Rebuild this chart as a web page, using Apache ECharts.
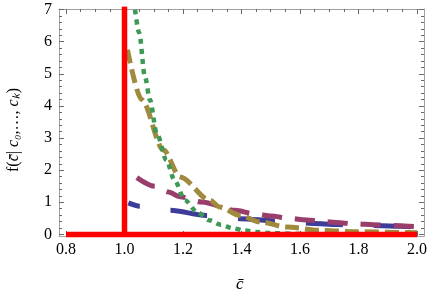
<!DOCTYPE html>
<html><head><meta charset="utf-8">
<script src="https://cdn.jsdelivr.net/npm/echarts@6/dist/echarts.min.js"></script>
<style>html,body{margin:0;padding:0;background:#fff}#c{width:430px;height:300px}</style>
</head><body><div id="c"></div>
<script>
// ---- data ----
const xTickLabels = [0.8, 1.0, 1.2, 1.4, 1.6, 1.8, 2.0];
const yTickLabels = [0, 1, 2, 3, 4, 5, 6, 7];
const xMinorTicks = [0.8,0.85,0.9,0.95,1.0,1.05,1.1,1.15,1.2,1.25,1.3,1.35,1.4,1.45,1.5,1.55,1.6,1.65,1.7,1.75,1.8,1.85,1.9,1.95,2.0];
const yMinorTicks = [0,0.2,0.4,0.6,0.8,1,1.2,1.4,1.6,1.8,2,2.2,2.4,2.6,2.8,3,3.2,3.4,3.6,3.8,4,4.2,4.4,4.6,4.8,5,5.2,5.4,5.6,5.8,6,6.2,6.4,6.6,6.8,7];

const redX = [0.8, 1.0, 1.0, 1.0, 2.0];
const redY = [0, 0, 7.1, 0, 0];

const blueX = [1.013, 1.053, 1.156, 1.281, 1.395, 1.52, 1.63, 1.713, 1.754, 1.942, 2.0];
const blueY = [0.98, 0.875, 0.75, 0.59, 0.49, 0.42, 0.35, 0.31, 0.30, 0.25, 0.22];

const purpleX = [1.042, 1.104, 1.15, 1.19, 1.264, 1.378, 1.446, 1.5, 1.566, 1.61, 1.68, 1.794, 1.85, 2.0];
const purpleY = [1.77, 1.5, 1.32, 1.17, 1.01, 0.75, 0.64, 0.57, 0.50, 0.46, 0.40, 0.33, 0.30, 0.24];

const brownX = [1.01, 1.059, 1.133, 1.19, 1.292, 1.326, 1.395, 1.463, 1.555, 1.668, 1.8, 2.0];
const brownY = [5.75, 4.19, 2.63, 1.79, 1.06, 0.85, 0.59, 0.39, 0.23, 0.125, 0.08, 0.05];

const greenX = [1.036, 1.05, 1.07, 1.087, 1.11, 1.144, 1.17, 1.207, 1.25, 1.29, 1.33, 1.37, 1.41, 1.45, 1.5, 1.6, 1.7, 1.85, 2.0];
const greenY = [7.0, 6.28, 4.9, 4.19, 3.15, 2.3, 1.7, 1.06, 0.68, 0.44, 0.3, 0.19, 0.12, 0.075, 0.04, 0.015, 0.006, 0.002, 0.001];

const xName = 'c\u0304';
const yName = '{r|f(}{i|c\u0304}{r|| }{i|c₀}{r|,…, }{i|cₖ}{r|)}';

// ---- chart ----
const pairs = (xs, ys) => xs.map((x, i) => [x, ys[i]]);
const FONT = '"Liberation Serif", "Times New Roman", serif';
const frameColor = '#a0a0a0';
const tickColor = '#6a6a6a';
const XMIN = 0.776, XMAX = 2.024, YMIN = -0.05, YMAX = 7.02;

function xAx(pos, vals, len, labels, line) {
  return {
    type: 'value', position: pos, min: XMIN, max: XMAX,
    axisLine: { show: line, onZero: false, lineStyle: { color: frameColor, width: 1 } },
    axisTick: { show: true, inside: true, length: len, customValues: vals, lineStyle: { color: tickColor, width: 1 } },
    axisLabel: labels ? { show: true, customValues: xTickLabels, formatter: v => Number(v).toFixed(1), fontFamily: FONT, fontSize: 16, color: '#000', margin: 6 } : { show: false },
    splitLine: { show: false }
  };
}
function yAx(pos, vals, len, labels, line) {
  return {
    type: 'value', position: pos, min: YMIN, max: YMAX,
    axisLine: { show: line, onZero: false, lineStyle: { color: frameColor, width: 1 } },
    axisTick: { show: true, inside: true, length: len, customValues: vals, lineStyle: { color: tickColor, width: 1 } },
    axisLabel: labels ? { show: true, customValues: yTickLabels, formatter: v => String(Math.round(v)), fontFamily: FONT, fontSize: 16, color: '#000', margin: 7 } : { show: false },
    splitLine: { show: false }
  };
}

function line(data, color, width, dash, z, offset) {
  return {
    type: 'line', data: data, xAxisIndex: 0, yAxisIndex: 0, showSymbol: false, symbol: 'none',
    smooth: 0.3, smoothMonotone: 'x', clip: true, z: z,
    lineStyle: { color: color, width: width, type: dash, dashOffset: offset || 0, cap: 'butt', join: 'round' },
    silent: true, animation: false
  };
}

const chart = echarts.init(document.getElementById('c'), null, { renderer: 'canvas' });
chart.setOption({
  animation: false,
  backgroundColor: '#fff',
  grid: { left: 59, right: 6, top: 9, bottom: 64 },
  xAxis: [
    xAx('bottom', xTickLabels, 5, true, true),
    xAx('bottom', xMinorTicks, 3, false, false),
    xAx('top', xTickLabels, 5, false, true),
    xAx('top', xMinorTicks, 3, false, false)
  ],
  yAxis: [
    yAx('left', yTickLabels, 5, true, true),
    yAx('left', yMinorTicks, 3, false, false),
    yAx('right', yTickLabels, 5, false, true),
    yAx('right', yMinorTicks, 3, false, false)
  ],
  series: [
    line(pairs(blueX, blueY), '#3d3d99', 5, [37, 31], 2, 25),
    line(pairs(purpleX, purpleY), '#993d6b', 5, [20, 13], 3, 0),
    line(pairs(brownX, brownY), '#a08a3d', 5, [14, 6], 4, 0),
    line(pairs(greenX, greenY), '#3d9955', 4.5, [5, 5], 5, 0),
    Object.assign(line(pairs(redX, redY), '#ff0000', 5, 'solid', 6), { smooth: false, lineStyle: { color: '#ff0000', width: 5.5, type: 'solid', join: 'miter' } })
  ],
  graphic: [
    { type: 'text', left: 236, top: 276, style: { text: xName, font: 'italic 17px ' + FONT, fill: '#000' } },
    { type: 'text', x: 6, y: 172, rotation: Math.PI / 2, style: {
        text: yName, fill: '#000',
        rich: {
          r: { fontFamily: FONT, fontSize: 16, fill: '#000' },
          i: { fontFamily: FONT, fontSize: 16, fontStyle: 'italic', fill: '#000' }
        }
      } }
  ]
});
</script></body></html>
